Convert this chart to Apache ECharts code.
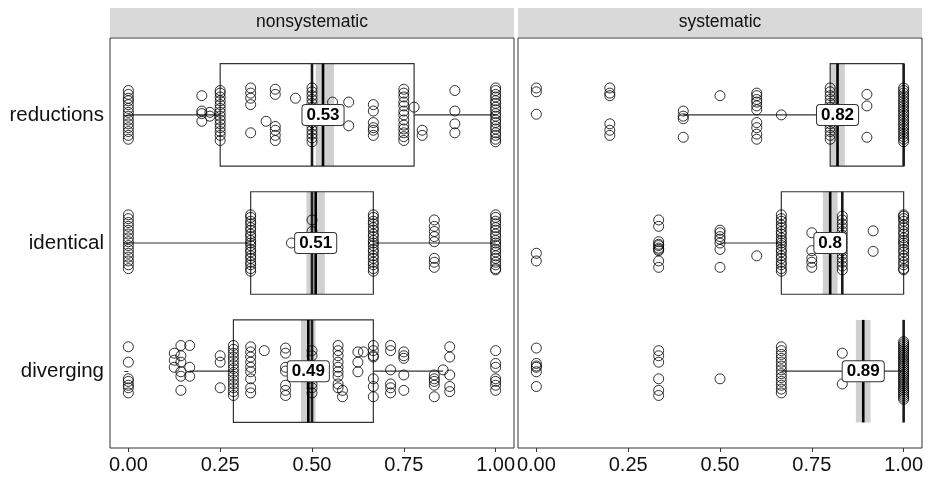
<!DOCTYPE html>
<html>
<head>
<meta charset="utf-8">
<script src="https://cdn.jsdelivr.net/npm/echarts@6/dist/echarts.min.js"></script>
<style>
  html, body { margin: 0; padding: 0; background: #fff; }
  #chart { width: 931px; height: 478px; }
</style>
</head>
<body>
<div id="chart"></div>
<script>
// categories and facets
const categories = ['reductions', 'identical', 'diverging']
const facets = ['nonsystematic', 'systematic']
const xTicks = [0, 0.25, 0.5, 0.75, 1]

// box stats per category: [lower whisker, q1, median, q3, upper whisker]
const nonsysBoxes = [
  [0, 0.25, 0.5, 0.778, 1],
  [0, 0.333, 0.5, 0.667, 1],
  [0.167, 0.286, 0.5, 0.667, 0.857]
]
const sysBoxes = [
  [0.4, 0.8, 1, 1, 1],
  [0.5, 0.667, 0.833, 1, 1],
  [0.667, 1, 1, 1, 1]
]

// means with confidence band
const nonsysMeans = [0.53, 0.51, 0.49]
const nonsysCiLow = [0.51, 0.485, 0.47]
const nonsysCiHigh = [0.56, 0.535, 0.51]
const sysMeans = [0.82, 0.8, 0.89]
const sysCiLow = [0.8, 0.78, 0.87]
const sysCiHigh = [0.84, 0.82, 0.91]

// raw responses: [value, [vertical jitter of each point]]
const nonsysReductions = [
  [0, [-0.19, -0.16, -0.13, -0.11, -0.08, -0.05, -0.02, 0.01, 0.04, 0.07, 0.1, 0.13, 0.16, 0.19]],
  [0.2, [-0.15, -0.03, -0.01, 0.05]],
  [0.222, [-0.02, 0.01]],
  [0.25, [-0.19, -0.17, -0.14, -0.11, -0.08, -0.05, -0.02, 0.01, 0.04, 0.07, 0.1, 0.13, 0.16, 0.2]],
  [0.333, [-0.21, -0.17, -0.13, -0.08, 0.14]],
  [0.375, [0.05]],
  [0.4, [-0.2, -0.16, 0.09, 0.12, 0.16, 0.2]],
  [0.455, [-0.13]],
  [0.5, [-0.21, -0.18, -0.15, -0.12, -0.09, -0.06, -0.03, 0.03, 0.06, 0.09, 0.12, 0.15, 0.18, 0.21]],
  [0.556, [-0.1]],
  [0.6, [-0.1, 0.085]],
  [0.667, [-0.08, -0.03, 0.06, 0.1, 0.12, 0.16]],
  [0.75, [-0.2, -0.17, -0.14, -0.1, -0.07, -0.03, 0, 0.04, 0.08, 0.11, 0.14, 0.17, 0.2]],
  [0.778, [-0.06]],
  [0.8, [0.12, 0.16]],
  [0.889, [-0.19, -0.03, 0.07, 0.14]],
  [1, [-0.21, -0.19, -0.16, -0.14, -0.11, -0.09, -0.06, -0.04, -0.01, 0.01, 0.04, 0.06, 0.09, 0.11, 0.14, 0.16, 0.19, 0.21]]
]
const nonsysIdentical = [
  [0, [-0.22, -0.19, -0.16, -0.13, -0.1, -0.07, -0.04, -0.01, 0.02, 0.05, 0.08, 0.11, 0.14, 0.17, 0.2]],
  [0.333, [-0.22, -0.2, -0.17, -0.15, -0.12, -0.1, -0.07, -0.05, -0.02, 0, 0.02, 0.05, 0.07, 0.1, 0.12, 0.15, 0.17, 0.2, 0.22]],
  [0.444, [0]],
  [0.5, [-0.18, -0.09]],
  [0.667, [-0.22, -0.2, -0.17, -0.15, -0.12, -0.1, -0.07, -0.05, -0.02, 0, 0.02, 0.05, 0.07, 0.1, 0.12, 0.15, 0.17, 0.2, 0.22]],
  [0.833, [-0.18, -0.13, -0.09, -0.05, -0.01, 0.12, 0.15, 0.19]],
  [1, [-0.22, -0.2, -0.17, -0.15, -0.12, -0.1, -0.07, -0.05, -0.02, 0, 0.02, 0.05, 0.07, 0.1, 0.12, 0.15, 0.17, 0.2, 0.21]]
]
const nonsysDiverging = [
  [0, [-0.19, -0.07, 0.06, 0.08, 0.11, 0.13, 0.17]],
  [0.125, [-0.14, -0.085, -0.03]],
  [0.143, [-0.2, -0.12, -0.07, 0.005, 0.04, 0.15]],
  [0.167, [-0.2, -0.03, 0.04]],
  [0.25, [-0.12, -0.07, 0.13]],
  [0.286, [-0.2, -0.17, -0.14, -0.11, -0.08, -0.05, -0.02, 0.01, 0.04, 0.07, 0.1, 0.13, 0.16, 0.19]],
  [0.333, [-0.19, -0.15, -0.11, -0.07, -0.03, 0.005, 0.06, 0.13, 0.17]],
  [0.37, [-0.16]],
  [0.428, [-0.18, -0.14, -0.03, 0, 0.11, 0.15, 0.19]],
  [0.5, [-0.16, -0.12, 0.1, 0.13, 0.17]],
  [0.571, [-0.2, -0.16, -0.12, -0.07, -0.03, 0.005, 0.04, 0.1, 0.13]],
  [0.583, [0.15, 0.2]],
  [0.625, [-0.15, -0.07, 0.005]],
  [0.64, [-0.15]],
  [0.667, [-0.2, -0.16, -0.12, -0.11, 0.06, 0.12, 0.2]],
  [0.714, [-0.2, -0.16, -0.01, 0.1, 0.13, 0.17]],
  [0.75, [-0.15, -0.12, -0.1, 0.03, 0.15]],
  [0.833, [0.03, 0.06, 0.08, 0.11, 0.2]],
  [0.857, [-0.01]],
  [0.875, [-0.19, -0.11, 0.03, 0.12, 0.16]],
  [1, [-0.16, -0.06, -0.03, 0.06, 0.08, 0.11, 0.15]]
]
const sysReductions = [
  [0, [-0.21, -0.18, -0.005]],
  [0.2, [-0.21, -0.17, -0.15, 0.07, 0.12, 0.16]],
  [0.4, [-0.03, 0.01, 0.03, 0.175]],
  [0.5, [-0.15]],
  [0.6, [-0.17, -0.15, -0.12, -0.1, -0.07, -0.04, 0.06, 0.1, 0.15, 0.19]],
  [0.667, [0]],
  [0.8, [-0.21, -0.18, -0.15, -0.12, -0.09, -0.06, 0.04, 0.07, 0.1, 0.13, 0.16, 0.19]],
  [0.9, [-0.16, -0.07, 0.175]],
  [1, [-0.21, -0.19, -0.17, -0.15, -0.13, -0.11, -0.09, -0.07, -0.05, -0.03, -0.01, 0.01, 0.03, 0.05, 0.07, 0.09, 0.11, 0.13, 0.15, 0.17, 0.19, 0.21]]
]
const sysIdentical = [
  [0, [0.08, 0.14]],
  [0.333, [-0.18, -0.13, -0.01, 0.01, 0.02, 0.04, 0.05, 0.06, 0.14, 0.19]],
  [0.5, [-0.1, -0.08, -0.05, -0.03, 0, 0.05, 0.19]],
  [0.6, [0.1]],
  [0.667, [-0.22, -0.19, -0.17, -0.14, -0.12, -0.09, -0.07, -0.04, -0.02, 0, 0.02, 0.05, 0.07, 0.1, 0.12, 0.15, 0.17, 0.2, 0.22]],
  [0.75, [-0.08, 0.06, 0.12, 0.15, 0.19]],
  [0.833, [-0.21, -0.18, -0.15, -0.12, -0.09, -0.06, -0.03, 0, 0.03, 0.06, 0.09, 0.12, 0.15, 0.18, 0.21]],
  [0.917, [-0.095, 0.065]],
  [1, [-0.22, -0.21, -0.19, -0.17, -0.14, -0.12, -0.09, -0.07, -0.04, -0.02, 0, 0.02, 0.05, 0.07, 0.1, 0.12, 0.15, 0.17, 0.2, 0.21]]
]
const sysDiverging = [
  [0, [-0.18, -0.06, -0.04, -0.03, 0.005, 0.12]],
  [0.333, [-0.16, -0.12, -0.07, 0.06, 0.15, 0.19]],
  [0.5, [0.06]],
  [0.667, [-0.19, -0.16, -0.13, -0.1, -0.07, -0.04, -0.01, 0.02, 0.05, 0.08, 0.11, 0.14, 0.17]],
  [0.833, [-0.14, 0.1]],
  [1, [-0.23, -0.215, -0.2, -0.185, -0.17, -0.155, -0.14, -0.125, -0.11, -0.095, -0.08, -0.065, -0.05, -0.035, -0.02, -0.005, 0.01, 0.025, 0.04, 0.055, 0.07, 0.085, 0.1, 0.115, 0.13, 0.145, 0.16, 0.175, 0.19, 0.205, 0.22]]
]

const chart = echarts.init(document.getElementById('chart'), null, {renderer: 'canvas'})

const BOX_HALF = 0.4
const FONT = 'Liberation Sans'

// flatten the jitter columns to [x, y] points, y = category position + jitter
const toPoints = (cells) => {
  const out = []
  cells.forEach((cell, ci) => {
    cell.forEach(([x, jitters]) => {
      jitters.forEach(j => out.push([x, ci + 1 + j]))
    })
  })
  return out
}

const renderBox = (params, api) => {
  const cat = api.value(0)
  const low = api.value(1), q1 = api.value(2), med = api.value(3), q3 = api.value(4), high = api.value(5)
  const c = (x, y) => api.coord([x, y])
  const lineStyle = {stroke: '#333', lineWidth: 1.2, fill: null}
  const children = []
  const pl = c(low, cat), pq1 = c(q1, cat), pq3 = c(q3, cat), ph = c(high, cat)
  if (q1 > low) children.push({type: 'line', shape: {x1: pl[0], y1: pl[1], x2: pq1[0], y2: pq1[1]}, style: lineStyle})
  if (high > q3) children.push({type: 'line', shape: {x1: pq3[0], y1: pq3[1], x2: ph[0], y2: ph[1]}, style: lineStyle})
  const tl = c(q1, cat - BOX_HALF), br = c(q3, cat + BOX_HALF)
  children.push({type: 'rect', shape: {x: tl[0], y: tl[1], width: br[0] - tl[0], height: br[1] - tl[1]}, style: lineStyle})
  const mt = c(med, cat - BOX_HALF), mb = c(med, cat + BOX_HALF)
  children.push({type: 'line', shape: {x1: mt[0], y1: mt[1], x2: mb[0], y2: mb[1]}, style: {stroke: '#1a1a1a', lineWidth: 2.6}})
  return {type: 'group', children}
}

const renderBand = (params, api) => {
  const cat = api.value(0)
  const tl = api.coord([api.value(2), cat - BOX_HALF])
  const br = api.coord([api.value(3), cat + BOX_HALF])
  return {type: 'rect', shape: {x: tl[0], y: tl[1], width: br[0] - tl[0], height: br[1] - tl[1]}, style: {fill: '#d0d0d0'}}
}

const renderMean = (params, api) => {
  const cat = api.value(0)
  const t = api.coord([api.value(1), cat - BOX_HALF])
  const b = api.coord([api.value(1), cat + BOX_HALF])
  return {type: 'line', shape: {x1: t[0], y1: t[1], x2: b[0], y2: b[1]}, style: {stroke: '#000', lineWidth: 2.6}}
}

const renderLabel = (params, api) => {
  const cat = api.value(0)
  const p = api.coord([api.value(1), cat])
  return {
    type: 'text',
    x: p[0], y: p[1],
    style: {
      text: String(api.value(1)),
      font: 'bold 17px ' + FONT,
      fill: '#000',
      align: 'center',
      verticalAlign: 'middle',
      backgroundColor: '#fff',
      borderColor: '#333',
      borderWidth: 1,
      borderRadius: 3,
      padding: [2, 4, 1, 4]
    }
  }
}

const makeSeries = (gi, boxes, means, lo, hi, cells) => {
  const boxData = boxes.map((b, i) => [i + 1, ...b])
  const meanData = means.map((m, i) => [i + 1, m, lo[i], hi[i]])
  const axes = {xAxisIndex: gi, yAxisIndex: gi}
  return [
    {type: 'custom', ...axes, renderItem: renderBand, data: meanData, encode: {x: [2, 3], y: 0}, z: 1, silent: true},
    {type: 'custom', ...axes, renderItem: renderBox, data: boxData, encode: {x: [1, 5], y: 0}, z: 2, silent: true},
    {
      type: 'scatter', ...axes, data: toPoints(cells), symbol: 'circle', symbolSize: 10,
      itemStyle: {color: 'rgba(0,0,0,0)', borderColor: '#000', borderWidth: 1}, z: 3, silent: true
    },
    {type: 'custom', ...axes, renderItem: renderMean, data: meanData, encode: {x: 1, y: 0}, z: 4, silent: true},
    {type: 'custom', ...axes, renderItem: renderLabel, data: meanData, encode: {x: 1, y: 0}, z: 5, silent: true}
  ]
}

const panelLeft = [110, 518]
const panelWidth = 404
const panelTop = 38
const panelHeight = 410

const xAxisOpt = (gi) => ({
  type: 'value', gridIndex: gi, min: -0.05, max: 1.05,
  axisLine: {show: false},
  splitLine: {show: false},
  axisTick: {show: true, customValues: xTicks, length: 4, lineStyle: {color: '#333'}},
  axisLabel: {
    customValues: xTicks, formatter: v => v.toFixed(2),
    color: '#111', fontSize: 20, fontFamily: FONT, margin: 7
  }
})

const yAxisOpt = (gi) => ({
  type: 'value', gridIndex: gi, min: 0.4, max: 3.6, inverse: true,
  axisLine: {show: false},
  splitLine: {show: false},
  axisTick: {show: gi === 0, customValues: [1, 2, 3], length: 4, lineStyle: {color: '#333'}},
  axisLabel: {
    show: gi === 0, customValues: [1, 2, 3], formatter: v => categories[Math.round(v) - 1],
    color: '#111', fontSize: 20.5, fontFamily: FONT, margin: 6
  }
})

chart.setOption({
  animation: false,
  backgroundColor: '#fff',
  textStyle: {fontFamily: FONT},
  grid: panelLeft.map(l => ({
    left: l, top: panelTop, width: panelWidth, height: panelHeight,
    show: true, borderColor: '#333', borderWidth: 1, backgroundColor: '#fff'
  })),
  xAxis: [xAxisOpt(0), xAxisOpt(1)],
  yAxis: [yAxisOpt(0), yAxisOpt(1)],
  graphic: facets.flatMap((f, i) => [
    {type: 'rect', left: panelLeft[i], top: 8, shape: {width: panelWidth, height: 29}, style: {fill: '#d9d9d9'}},
    {
      type: 'text', x: panelLeft[i] + panelWidth / 2, y: 22.5,
      style: {text: f, font: '17.5px ' + FONT, fill: '#111', align: 'center', verticalAlign: 'middle'}
    }
  ]),
  series: [
    ...makeSeries(0, nonsysBoxes, nonsysMeans, nonsysCiLow, nonsysCiHigh, [nonsysReductions, nonsysIdentical, nonsysDiverging]),
    ...makeSeries(1, sysBoxes, sysMeans, sysCiLow, sysCiHigh, [sysReductions, sysIdentical, sysDiverging])
  ]
})
</script>
</body>
</html>
